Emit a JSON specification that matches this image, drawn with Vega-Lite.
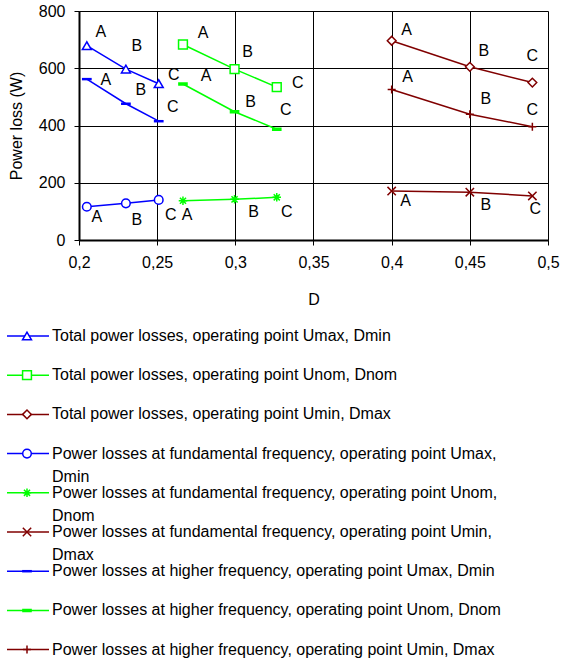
{
  "$schema": "https://vega.github.io/schema/vega-lite/v6.json",
  "background": "white",
  "padding": {"left": 6, "top": 3, "right": 5, "bottom": 2},
  "spacing": 21,
  "config": {
    "font": "Liberation Sans",
    "view": {"stroke": null},
    "axis": {
      "labelFont": "Liberation Sans", "labelFontSize": 16, "labelColor": "black",
      "titleFont": "Liberation Sans", "titleFontSize": 16, "titleFontWeight": "normal", "titleColor": "black",
      "domainColor": "black", "tickColor": "black", "gridColor": "black", "gridOpacity": 1, "gridWidth": 1,
      "tickSize": 5
    }
  },
  "datasets": {
    "pts": [
      {"series": "tU", "D": 0.205, "loss": 679, "label": "A"},
      {"series": "tU", "D": 0.230, "loss": 597, "label": "B"},
      {"series": "tU", "D": 0.251, "loss": 546, "label": "C"},
      {"series": "hU", "D": 0.205, "loss": 562, "label": "A"},
      {"series": "hU", "D": 0.230, "loss": 476, "label": "B"},
      {"series": "hU", "D": 0.251, "loss": 415, "label": "C"},
      {"series": "fU", "D": 0.205, "loss": 116, "label": "A"},
      {"series": "fU", "D": 0.230, "loss": 128, "label": "B"},
      {"series": "fU", "D": 0.251, "loss": 140, "label": "C"},
      {"series": "tN", "D": 0.2665, "loss": 683, "label": "A"},
      {"series": "tN", "D": 0.2995, "loss": 597, "label": "B"},
      {"series": "tN", "D": 0.3265, "loss": 534, "label": "C"},
      {"series": "hN", "D": 0.2665, "loss": 545, "label": "A"},
      {"series": "hN", "D": 0.2995, "loss": 448, "label": "B"},
      {"series": "hN", "D": 0.3265, "loss": 387, "label": "C"},
      {"series": "fN", "D": 0.2665, "loss": 137, "label": "A"},
      {"series": "fN", "D": 0.2995, "loss": 142, "label": "B"},
      {"series": "fN", "D": 0.3265, "loss": 149, "label": "C"},
      {"series": "tM", "D": 0.400, "loss": 696, "label": "A"},
      {"series": "tM", "D": 0.450, "loss": 605, "label": "B"},
      {"series": "tM", "D": 0.490, "loss": 550, "label": "C"},
      {"series": "hM", "D": 0.400, "loss": 526, "label": "A"},
      {"series": "hM", "D": 0.450, "loss": 439, "label": "B"},
      {"series": "hM", "D": 0.490, "loss": 396, "label": "C"},
      {"series": "fM", "D": 0.400, "loss": 171, "label": "A"},
      {"series": "fM", "D": 0.450, "loss": 167, "label": "B"},
      {"series": "fM", "D": 0.490, "loss": 154, "label": "C"}
    ],
    "leg": [
      {"series": "tU", "name": "Total power losses, operating point Umax, Dmin"},
      {"series": "tN", "name": "Total power losses, operating point Unom, Dnom"},
      {"series": "tM", "name": "Total power losses, operating point Umin, Dmax"},
      {"series": "fU", "name": "Power losses at fundamental frequency, operating point Umax,\nDmin"},
      {"series": "fN", "name": "Power losses at fundamental frequency, operating point Unom,\nDnom"},
      {"series": "fM", "name": "Power losses at fundamental frequency, operating point Umin,\nDmax"},
      {"series": "hU", "name": "Power losses at higher frequency, operating point Umax, Dmin"},
      {"series": "hN", "name": "Power losses at higher frequency, operating point Unom, Dnom"},
      {"series": "hM", "name": "Power losses at higher frequency, operating point Umin, Dmax"}
    ]
  },
  "vconcat": [
    {
      "width": 469,
      "height": 229,
      "data": {"name": "pts"},
      "encoding": {
        "x": {
          "field": "D", "type": "quantitative",
          "scale": {"domain": [0.2, 0.5], "nice": false, "zero": false},
          "axis": {
            "values": [0.2, 0.25, 0.3, 0.35, 0.4, 0.45, 0.5],
            "labelExpr": "replace(format(datum.value, '~g'), '.', ',')",
            "title": "D", "domainWidth": 2, "labelPadding": 9, "titlePadding": 21,
            "labelFlush": false
          }
        },
        "y": {
          "field": "loss", "type": "quantitative",
          "scale": {"domain": [0, 800], "nice": false},
          "axis": {
            "values": [0, 200, 400, 600, 800],
            "title": "Power loss (W)", "domainWidth": 2, "labelPadding": 9, "titlePadding": 14,
            "labelFlush": false
          }
        }
      },
      "layer": [
        {
          "mark": {"type": "line", "strokeWidth": 1.5},
          "encoding": {
            "color": {
              "field": "series", "type": "nominal", "legend": null,
              "scale": {"domain": ["tU", "tN", "tM", "fU", "fN", "fM", "hU", "hN", "hM"],
                        "range": ["#0000ff", "#00ff00", "#800000", "#0000ff", "#00ff00", "#800000", "#0000ff", "#00ff00", "#800000"]}
            }
          }
        },
        {
          "mark": {"type": "point", "opacity": 1, "fillOpacity": 1, "strokeOpacity": 1},
          "encoding": {
            "stroke": {
              "field": "series", "type": "nominal", "legend": null,
              "scale": {"domain": ["tU", "tN", "tM", "fU", "fN", "fM", "hU", "hN", "hM"],
                        "range": ["#0000ff", "#00ff00", "#800000", "#0000ff", "#00ff00", "#800000", "#0000ff", "#00ff00", "#800000"]}
            },
            "fill": {
              "field": "series", "type": "nominal", "legend": null,
              "scale": {"domain": ["tU", "tN", "tM", "fU", "fN", "fM", "hU", "hN", "hM"],
                        "range": ["#ffffff", "#ffffff", "#ffffff", "#ffffff", "#ffffff", "#ffffff", "#0000ff", "#00ff00", "#ffffff"]}
            },
            "shape": {
              "field": "series", "type": "nominal", "legend": null,
              "scale": {"domain": ["tU", "tN", "tM", "fU", "fN", "fM", "hU", "hN", "hM"],
                        "range": ["triangle-up", "square", "diamond", "circle",
                                  "M-1,0L1,0M0,-1L0,1M-0.72,-0.72L0.72,0.72M-0.72,0.72L0.72,-0.72",
                                  "M-1,-1L1,1M-1,1L1,-1",
                                  "M-1,-0.12L1,-0.12L1,0.12L-1,0.12Z", "M-1,-0.25L1,-0.25L1,0.25L-1,0.25Z", "M-1,0L1,0M0,-1L0,1"]}
            },
            "size": {
              "field": "series", "type": "nominal", "legend": null,
              "scale": {"domain": ["tU", "tN", "tM", "fU", "fN", "fM", "hU", "hN", "hM"],
                        "range": [80, 64, 81, 55, 100, 81, 110, 20, 100]}
            },
            "strokeWidth": {
              "field": "series", "type": "nominal", "legend": null,
              "scale": {"domain": ["tU", "tN", "tM", "fU", "fN", "fM", "hU", "hN", "hM"],
                        "range": [1.5, 1.5, 1.5, 1.5, 1.6, 1.5, 1.5, 1.5, 1.5]}
            }
          }
        },
        {
          "mark": {
            "type": "text", "fontSize": 16, "color": "black", "align": "center", "baseline": "middle",
            "dx": {"expr": "{'tUA':14,'tUB':11,'tUC':15,'hUA':19,'hUB':15,'hUC':14,'fUA':10,'fUB':11,'fUC':12,'tNA':20,'tNB':13,'tNC':21,'hNA':23,'hNB':16,'hNC':9,'fNA':4,'fNB':19,'fNC':10,'tMA':15,'tMB':14,'tMC':0,'hMA':16,'hMB':16,'hMC':0,'fMA':14,'fMB':16,'fMC':3}[datum.series + datum.label]"},
            "dy": {"expr": "{'tUA':-14,'tUB':-23,'tUC':-9,'hUA':1,'hUB':-14,'hUC':-14,'fUA':10,'fUB':17,'fUC':15,'tNA':-11,'tNB':-17,'tNC':-4,'hNA':-8,'hNB':-10,'hNC':-19,'fNA':14,'fNB':13,'fNC':15,'tMA':-11,'tMB':-16,'tMC':-27,'hMA':-12,'hMB':-15,'hMC':-17,'fMA':10,'fMB':13,'fMC':13}[datum.series + datum.label]"}
          },
          "encoding": {"text": {"field": "label"}}
        }
      ]
    },
    {
      "width": 469,
      "height": 313.6,
      "data": {"name": "leg"},
      "encoding": {
        "y": {
          "field": "series", "type": "nominal", "axis": null,
          "scale": {"type": "point", "padding": 0, "domain": ["tU", "tN", "tM", "fU", "fN", "fM", "hU", "hN", "hM"]}
        }
      },
      "layer": [
        {
          "mark": {"type": "rule", "strokeWidth": 1.5},
          "encoding": {
            "x": {"datum": -72, "type": "quantitative", "scale": {"domain": [0, 469], "nice": false, "zero": false}, "axis": null},
            "x2": {"datum": -30},
            "color": {
              "field": "series", "type": "nominal", "legend": null,
              "scale": {"domain": ["tU", "tN", "tM", "fU", "fN", "fM", "hU", "hN", "hM"],
                        "range": ["#0000ff", "#00ff00", "#800000", "#0000ff", "#00ff00", "#800000", "#0000ff", "#00ff00", "#800000"]}
            }
          }
        },
        {
          "mark": {"type": "point", "opacity": 1, "fillOpacity": 1, "strokeOpacity": 1},
          "encoding": {
            "x": {"datum": -52, "type": "quantitative"},
            "stroke": {
              "field": "series", "type": "nominal", "legend": null,
              "scale": {"domain": ["tU", "tN", "tM", "fU", "fN", "fM", "hU", "hN", "hM"],
                        "range": ["#0000ff", "#00ff00", "#800000", "#0000ff", "#00ff00", "#800000", "#0000ff", "#00ff00", "#800000"]}
            },
            "fill": {
              "field": "series", "type": "nominal", "legend": null,
              "scale": {"domain": ["tU", "tN", "tM", "fU", "fN", "fM", "hU", "hN", "hM"],
                        "range": ["#ffffff", "#ffffff", "#ffffff", "#ffffff", "#ffffff", "#ffffff", "#0000ff", "#00ff00", "#ffffff"]}
            },
            "shape": {
              "field": "series", "type": "nominal", "legend": null,
              "scale": {"domain": ["tU", "tN", "tM", "fU", "fN", "fM", "hU", "hN", "hM"],
                        "range": ["triangle-up", "square", "diamond", "circle",
                                  "M-1,0L1,0M0,-1L0,1M-0.72,-0.72L0.72,0.72M-0.72,0.72L0.72,-0.72",
                                  "M-1,-1L1,1M-1,1L1,-1",
                                  "M-1,-0.12L1,-0.12L1,0.12L-1,0.12Z", "M-1,-0.25L1,-0.25L1,0.25L-1,0.25Z", "M-1,0L1,0M0,-1L0,1"]}
            },
            "size": {
              "field": "series", "type": "nominal", "legend": null,
              "scale": {"domain": ["tU", "tN", "tM", "fU", "fN", "fM", "hU", "hN", "hM"],
                        "range": [80, 64, 81, 55, 100, 81, 110, 20, 100]}
            },
            "strokeWidth": {
              "field": "series", "type": "nominal", "legend": null,
              "scale": {"domain": ["tU", "tN", "tM", "fU", "fN", "fM", "hU", "hN", "hM"],
                        "range": [1.5, 1.5, 1.5, 1.5, 1.6, 1.5, 1.5, 1.5, 1.5]}
            }
          }
        },
        {
          "mark": {"type": "text", "align": "left", "baseline": "alphabetic", "dy": 5, "fontSize": 16, "color": "black", "lineBreak": "\n", "lineHeight": 23},
          "encoding": {
            "x": {"datum": -27, "type": "quantitative"},
            "text": {"field": "name"}
          }
        }
      ]
    }
  ]
}
